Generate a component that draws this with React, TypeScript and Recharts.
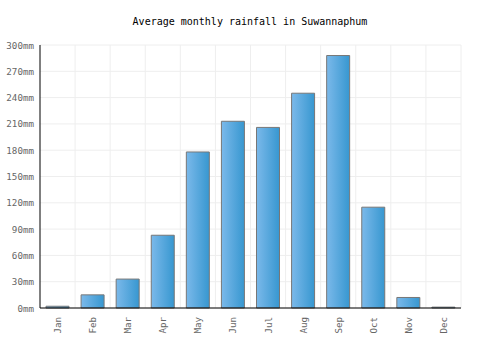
import React from 'react';
import { BarChart, Bar, XAxis, YAxis, CartesianGrid } from 'recharts';

const months = ['Jan', 'Feb', 'Mar', 'Apr', 'May', 'Jun', 'Jul', 'Aug', 'Sep', 'Oct', 'Nov', 'Dec'];
const rainfall = [2, 15, 33, 83, 178, 213, 206, 245, 288, 115, 12, 1];
const yTicks = [0, 30, 60, 90, 120, 150, 180, 210, 240, 270, 300];

const data = months.map((m, i) => ({ month: m, rain: rainfall[i] }));

const FONT = '"DejaVu Sans Mono", monospace';

const MonthTick = (props: any) => {
  const { x, y, payload } = props;
  return (
    <g transform={`translate(${x},${y + 1})`}>
      <text
        transform="rotate(-90)"
        textAnchor="end"
        dy={3.5}
        fill="#666"
        fontSize={9.2}
        fontFamily={FONT}
      >
        {payload.value}
      </text>
    </g>
  );
};

const RainTick = (props: any) => {
  const { x, y, payload } = props;
  return (
    <text
      x={x}
      y={y}
      dy={3.5}
      textAnchor="end"
      fill="#666"
      fontSize={9.2}
      fontFamily={FONT}
    >
      {`${payload.value}mm`}
    </text>
  );
};

export default function App() {
  return (
    <div style={{ position: 'absolute', left: 0, top: 0, width: 500, height: 350, background: '#fff' }}>
      <div
        style={{
          position: 'absolute',
          top: 16,
          left: 0,
          width: 500,
          textAlign: 'center',
          fontFamily: FONT,
          fontSize: 10,
          color: '#000',
        }}
      >
        Average monthly rainfall in Suwannaphum
      </div>
      <BarChart
        width={500}
        height={350}
        data={data}
        margin={{ top: 45, right: 39, bottom: 0, left: 0 }}
        barSize={23}
      >
        <defs>
          <linearGradient id="barGrad" x1="0" y1="0" x2="1" y2="0">
            <stop offset="0%" stopColor="#7bb9ea" />
            <stop offset="100%" stopColor="#3797d0" />
          </linearGradient>
        </defs>
        <CartesianGrid
          stroke="#eeeeee"
          verticalCoordinatesGenerator={({ offset }: any) =>
            months.map((_, i) => offset.left + ((i + 1) * offset.width) / months.length)
          }
        />
        <XAxis
          dataKey="month"
          height={42}
          interval={0}
          tickLine={false}
          axisLine={{ stroke: '#000' }}
          tick={<MonthTick />}
        />
        <YAxis
          width={40}
          domain={[0, 300]}
          ticks={yTicks}
          interval={0}
          tickLine={false}
          axisLine={{ stroke: '#000' }}
          tick={<RainTick />}
          tickMargin={0}
        />
        <Bar
          dataKey="rain"
          fill="url(#barGrad)"
          stroke="#777"
          strokeWidth={1}
          isAnimationActive={false}
        />
      </BarChart>
    </div>
  );
}
